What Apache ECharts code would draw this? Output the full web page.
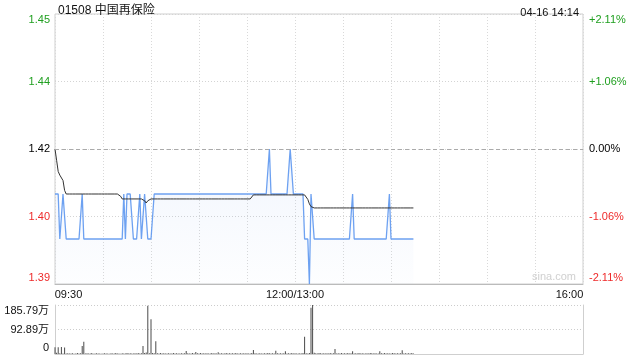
<!DOCTYPE html>
<html>
<head>
<meta charset="utf-8">
<script src="https://cdn.jsdelivr.net/npm/echarts@6/dist/echarts.min.js"></script>
<style>html,body{margin:0;padding:0;background:#fff;}#c{width:640px;height:360px;}</style>
</head>
<body>
<div id="c"></div>
<script>
// ---- data ----
const title = '01508 中国再保险';
const stamp = '04-16 14:14';
const prevClose = 1.42;
const priceMin = 1.39, priceMax = 1.45, priceStep = 0.015;
const priceTickLabels = ['1.39', '1.40', '1.42', '1.44', '1.45'];
const pctTickLabels = ['-2.11%', '-1.06%', '0.00%', '+1.06%', '+2.11%'];
const tickColors = ['#ee2a2a', '#ee2a2a', '#000000', '#1f9f1f', '#1f9f1f'];
const xLabelPos = [0, 150, 330];
const xLabelText = ['09:30', '12:00/13:00', '16:00'];
const volMax = 185.79;
const volTickLabels = ['0', '92.89万', '185.79万'];

// per-minute price (index 0 = 09:30, 150 = 12:00/13:00)
const price = [
1.41,1.41,1.41,1.40,1.40,1.41,1.41,1.40,1.40,1.40,
1.40,1.40,1.40,1.40,1.40,1.40,1.40,1.41,1.40,1.40,
1.40,1.40,1.40,1.40,1.40,1.40,1.40,1.40,1.40,1.40,
1.40,1.40,1.40,1.40,1.40,1.40,1.40,1.40,1.40,1.40,
1.40,1.40,1.40,1.41,1.40,1.41,1.41,1.41,1.41,1.40,
1.40,1.40,1.40,1.41,1.40,1.40,1.41,1.41,1.40,1.40,
1.40,1.40,1.41,1.41,1.41,1.41,1.41,1.41,1.41,1.41,
1.41,1.41,1.41,1.41,1.41,1.41,1.41,1.41,1.41,1.41,
1.41,1.41,1.41,1.41,1.41,1.41,1.41,1.41,1.41,1.41,
1.41,1.41,1.41,1.41,1.41,1.41,1.41,1.41,1.41,1.41,
1.41,1.41,1.41,1.41,1.41,1.41,1.41,1.41,1.41,1.41,
1.41,1.41,1.41,1.41,1.41,1.41,1.41,1.41,1.41,1.41,
1.41,1.41,1.41,1.41,1.41,1.41,1.41,1.41,1.41,1.41,
1.41,1.41,1.41,1.41,1.42,1.41,1.41,1.41,1.41,1.41,
1.41,1.41,1.41,1.41,1.41,1.41,1.41,1.42,1.42,1.41,
1.41,1.41,1.41,1.41,1.41,1.41,1.40,1.40,1.40,1.39,
1.41,1.41,1.40,1.40,1.40,1.40,1.40,1.40,1.40,1.40,
1.40,1.40,1.40,1.40,1.40,1.40,1.40,1.40,1.40,1.40,
1.40,1.40,1.40,1.40,1.40,1.40,1.41,1.40,1.40,1.40,
1.40,1.40,1.40,1.40,1.40,1.40,1.40,1.40,1.40,1.40,
1.40,1.40,1.40,1.40,1.40,1.40,1.40,1.40,1.40,1.41,
1.40,1.40,1.40,1.40,1.40,1.40,1.40,1.40,1.40,1.40,
1.40,1.40,1.40,1.40,1.40
];

// per-minute average price
const avgPrice = [
1.4200,1.4175,1.4150,1.4142,1.4138,1.4130,1.4108,1.4100,1.4100,1.4100,
1.4100,1.4100,1.4100,1.4100,1.4100,1.4100,1.4100,1.4100,1.4100,1.4100,
1.4100,1.4100,1.4100,1.4100,1.4100,1.4100,1.4100,1.4100,1.4100,1.4100,
1.4100,1.4100,1.4100,1.4100,1.4100,1.4100,1.4100,1.4100,1.4100,1.4100,
1.4100,1.4095,1.4089,1.4089,1.4089,1.4089,1.4089,1.4089,1.4089,1.4089,
1.4089,1.4089,1.4089,1.4089,1.4089,1.4089,1.4085,1.4080,1.4085,1.4089,
1.4089,1.4089,1.4089,1.4089,1.4089,1.4089,1.4089,1.4089,1.4089,1.4089,
1.4089,1.4089,1.4089,1.4089,1.4089,1.4089,1.4089,1.4089,1.4089,1.4089,
1.4089,1.4089,1.4089,1.4089,1.4089,1.4089,1.4089,1.4089,1.4089,1.4089,
1.4089,1.4089,1.4089,1.4089,1.4089,1.4089,1.4089,1.4089,1.4089,1.4089,
1.4089,1.4089,1.4089,1.4089,1.4089,1.4089,1.4089,1.4089,1.4089,1.4089,
1.4089,1.4089,1.4089,1.4089,1.4089,1.4089,1.4089,1.4089,1.4089,1.4089,
1.4089,1.4089,1.4089,1.4093,1.4098,1.4098,1.4098,1.4098,1.4098,1.4098,
1.4098,1.4098,1.4098,1.4098,1.4098,1.4098,1.4098,1.4098,1.4098,1.4098,
1.4098,1.4098,1.4098,1.4098,1.4098,1.4098,1.4098,1.4098,1.4098,1.4098,
1.4098,1.4098,1.4098,1.4098,1.4098,1.4098,1.4098,1.4095,1.4088,1.4078,
1.4072,1.4070,1.4069,1.4069,1.4069,1.4069,1.4069,1.4069,1.4069,1.4069,
1.4069,1.4069,1.4069,1.4069,1.4069,1.4069,1.4069,1.4069,1.4069,1.4069,
1.4069,1.4069,1.4069,1.4069,1.4069,1.4069,1.4069,1.4069,1.4069,1.4069,
1.4069,1.4069,1.4069,1.4069,1.4069,1.4069,1.4069,1.4069,1.4069,1.4069,
1.4069,1.4069,1.4069,1.4069,1.4069,1.4069,1.4069,1.4069,1.4069,1.4069,
1.4069,1.4069,1.4069,1.4069,1.4069,1.4069,1.4069,1.4069,1.4069,1.4069,
1.4069,1.4069,1.4069,1.4069,1.4069
];

// per-minute volume, in 万
const volume = [
26,5,26,3,27,2,25,2,3,2,
2,3,1,2,4,2,3,30,46,2,
3,2,2,4,1,2,3,2,2,1,
2,3,2,2,1,3,2,2,4,2,
2,1,3,2,2,4,2,3,2,2,
3,2,4,2,3,30,4,6,183,3,
132,4,3,48,3,2,4,2,3,2,
2,3,2,2,4,2,3,2,2,3,
2,3,11,3,2,2,4,2,8,3,
2,4,2,3,2,3,2,2,4,2,
3,2,7,2,3,2,2,4,2,3,
2,3,2,4,2,2,3,2,3,2,
3,2,2,4,15,3,2,2,3,2,
2,3,2,4,3,2,3,2,12,3,
2,3,2,3,10,2,3,2,4,2,
3,2,2,3,2,4,65,3,2,4,
175,185.79,5,3,2,4,3,2,3,2,
3,2,4,2,3,19,2,3,2,4,
2,3,2,4,2,3,10,2,3,2,
4,2,3,2,2,3,2,4,3,2,
3,2,2,10,3,2,4,2,3,2,
2,4,3,2,3,2,3,14,2,3,
2,3,2,4,2
];

// ---- chart ----
const FONT = '"Liberation Sans", Arial, "Noto Sans CJK SC", sans-serif';
const chart = echarts.init(document.getElementById('c'), null, {renderer: 'canvas'});

function edgeRich(n, idx, txt, color) {
  // keep top/bottom labels inside the plot
  if (idx === 0) return '{lo|' + txt + '}';
  if (idx === n - 1) return '{hi|' + txt + '}';
  return '{mid|' + txt + '}';
}
function richFor(colorFn) {
  return {
    lo: {padding: [0, 0, 12, 0], fontSize: 11, fontFamily: FONT},
    hi: {padding: [12, 0, 0, 0], fontSize: 11, fontFamily: FONT},
    mid: {fontSize: 11, fontFamily: FONT}
  };
}

const priceData = price.map((v, i) => [i, v]);
const avgData = avgPrice.map((v, i) => [i, v]);
const volData = volume.map((v, i) => [i, v]);

chart.setOption({
  animation: false,
  backgroundColor: '#fff',
  textStyle: {fontFamily: FONT},
  title: [
    {text: title, left: 53, top: 0, textStyle: {fontSize: 12, fontWeight: 'normal', color: '#111', fontFamily: FONT}},
    {text: stamp, right: 56, top: 2, textStyle: {fontSize: 11, fontWeight: 'normal', color: '#111', fontFamily: FONT}}
  ],
  graphic: [
    {type: 'text', right: 64, top: 271, silent: true,
     style: {text: 'sina.com', fill: '#d0d0d0', fontSize: 11, fontFamily: FONT}}
  ],
  grid: [
    {left: 55, right: 57, top: 14, height: 270, show: true, borderColor: '#cfcfcf', borderWidth: 1},
    {left: 55, right: 57, top: 305, height: 49, show: false}
  ],
  xAxis: [
    {type: 'value', gridIndex: 0, min: 0, max: 330, interval: 30,
     axisLine: {show: true, lineStyle: {color: '#bbb'}}, axisTick: {show: false},
     splitLine: {show: true, lineStyle: {color: '#d9d9d9', type: [1, 2]}},
     axisLabel: {
       show: true, margin: 5, color: '#111', fontSize: 11, fontFamily: FONT,
       formatter: function (v) {
         const k = xLabelPos.indexOf(Math.round(v));
         if (k < 0) return '';
         if (k === 0) return '{l|' + xLabelText[k] + '}';
         if (k === xLabelPos.length - 1) return '{r|' + xLabelText[k] + '}';
         return '{m|' + xLabelText[k] + '}';
       },
       rich: {
         l: {padding: [0, 0, 0, 27], fontSize: 11, fontFamily: FONT, color: '#111'},
         r: {padding: [0, 27, 0, 0], fontSize: 11, fontFamily: FONT, color: '#111'},
         m: {fontSize: 11, fontFamily: FONT, color: '#111'}
       }
     }},
    {type: 'value', gridIndex: 1, min: 0, max: 330, interval: 30,
     axisLine: {show: true, lineStyle: {color: '#cfcfcf'}}, axisTick: {show: false},
     splitLine: {show: false}, axisLabel: {show: false}}
  ],
  yAxis: [
    {type: 'value', gridIndex: 0, min: priceMin, max: priceMax, interval: priceStep, position: 'left',
     axisLine: {show: false}, axisTick: {show: false},
     splitLine: {show: true, lineStyle: {color: '#d4d4d4', type: [1, 2]}},
     axisLabel: {
       margin: 5, fontSize: 11, fontFamily: FONT,
       color: function (v, i) { return tickColors[i]; },
       formatter: function (v, i) { return edgeRich(priceTickLabels.length, i, priceTickLabels[i]); },
       rich: richFor()
     }},
    {type: 'value', gridIndex: 0, min: priceMin, max: priceMax, interval: priceStep, position: 'right',
     axisLine: {show: false}, axisTick: {show: false}, splitLine: {show: false},
     axisLabel: {
       margin: 6, fontSize: 11, fontFamily: FONT,
       color: function (v, i) { return tickColors[i]; },
       formatter: function (v, i) { return edgeRich(pctTickLabels.length, i, pctTickLabels[i]); },
       rich: richFor()
     }},
    {type: 'value', gridIndex: 1, min: 0, max: volMax, interval: volMax / 2, position: 'left',
     axisLine: {show: true, lineStyle: {color: '#cfcfcf'}}, axisTick: {show: false},
     splitLine: {show: true, lineStyle: {color: '#cccccc', type: [1, 2]}},
     axisLabel: {
       margin: 6, fontSize: 11, fontFamily: FONT, color: '#111',
       formatter: function (v, i) { return edgeRich(volTickLabels.length, i, volTickLabels[i]); },
       rich: richFor()
     }},
    {type: 'value', gridIndex: 1, min: 0, max: volMax, interval: volMax / 2, position: 'right',
     axisLine: {show: true, lineStyle: {color: '#cfcfcf'}}, axisTick: {show: false},
     splitLine: {show: false}, axisLabel: {show: false}}
  ],
  series: [
    {type: 'line', name: 'price', xAxisIndex: 0, yAxisIndex: 0, data: priceData,
     showSymbol: false, symbol: 'none', z: 3,
     lineStyle: {color: '#5d97ef', width: 1.3, opacity: 0.9},
     areaStyle: {origin: 'start', color: new echarts.graphic.LinearGradient(0, 0, 0, 1, [
       {offset: 0, color: 'rgba(110,155,235,0.13)'},
       {offset: 1, color: 'rgba(110,155,235,0.02)'}
     ])},
     markLine: {silent: true, symbol: ['none', 'none'], label: {show: false},
       lineStyle: {color: '#aaaaaa', type: [4, 3], width: 1},
       data: [{yAxis: prevClose}]}
    },
    {type: 'line', name: 'avg', xAxisIndex: 0, yAxisIndex: 0, data: avgData,
     showSymbol: false, symbol: 'none', z: 4,
     lineStyle: {color: '#333333', width: 1}},
    {type: 'bar', name: 'vol', xAxisIndex: 1, yAxisIndex: 2, data: volData,
     barWidth: 1, itemStyle: {color: '#4a4a4a'}}
  ]
});
</script>
</body>
</html>
